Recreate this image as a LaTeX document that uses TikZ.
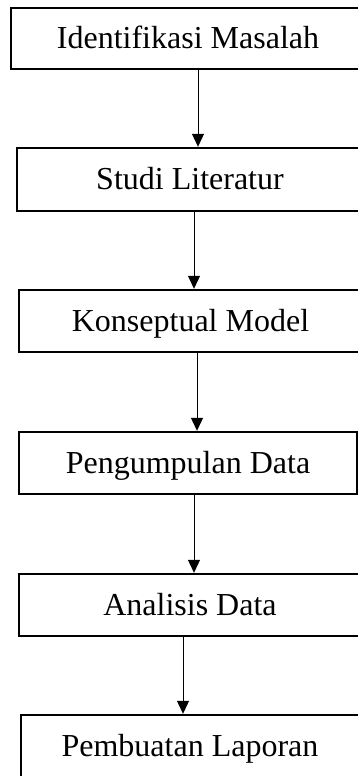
\documentclass[tikz,border=0pt]{standalone}
\usepackage{fontspec}
\setmainfont{Liberation Serif}
\usetikzlibrary{arrows.meta}
\tikzset{
  stepbox/.style={draw=black, line width=2.4pt, rectangle, inner sep=0pt,
    font=\fontsize{32}{36}\selectfont, text height=24pt, text depth=4pt},
  arr/.style={draw=black, line width=1pt, -{Triangle[width=12pt,length=13pt]}}
}
\begin{document}
\begin{tikzpicture}[x=1pt,y=-1pt]
\useasboundingbox (0,0) rectangle (358,776);
\clip (0,0) rectangle (358,776);
\fill[white] (0,0) rectangle (358,776);
\node[stepbox, minimum width=354pt, minimum height=61pt] (b1) at (188,38.5) {Identifikasi Masalah};
\node[stepbox, minimum width=346pt, minimum height=63pt] (b2) at (190,179.5) {Studi Literatur};
\node[stepbox, minimum width=343pt, minimum height=62pt] (b3) at (190.5,321) {Konseptual Model};
\node[stepbox, minimum width=338pt, minimum height=62pt] (b4) at (188,463) {Pengumpulan Data};
\node[stepbox, minimum width=342pt, minimum height=62pt] (b5) at (190,605) {Analisis Data};
\node[stepbox, minimum width=338pt, minimum height=62pt] (b6) at (190,746) {Pembuatan Laporan};
\coordinate (c1) at (198,0);
\coordinate (c2) at (194,0);
\coordinate (c3) at (197,0);
\coordinate (c4) at (194,0);
\coordinate (c5) at (183,0);
\draw[arr] (b1.south -| c1) -- (b2.north -| c1);
\draw[arr] (b2.south -| c2) -- (b3.north -| c2);
\draw[arr] (b3.south -| c3) -- (b4.north -| c3);
\draw[arr] (b4.south -| c4) -- (b5.north -| c4);
\draw[arr] (b5.south -| c5) -- (b6.north -| c5);
\end{tikzpicture}
\end{document}
